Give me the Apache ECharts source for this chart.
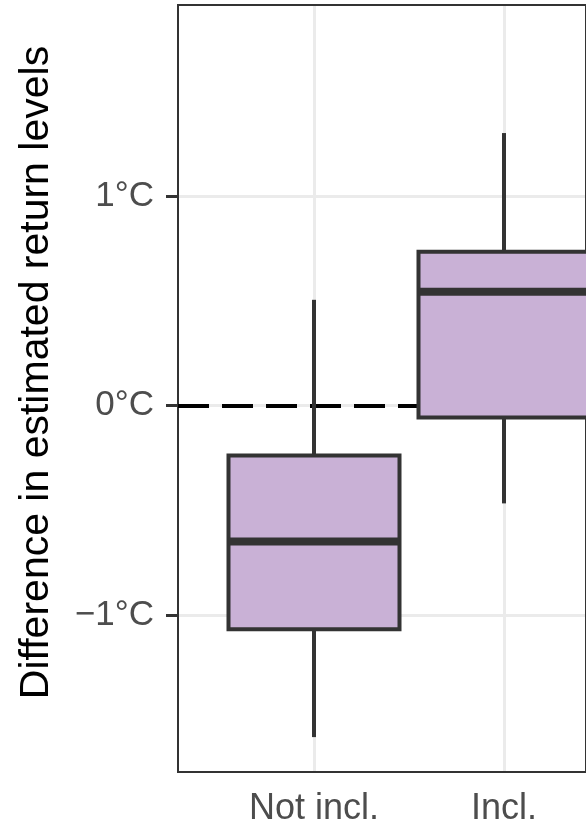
<!DOCTYPE html>
<html>
<head>
<meta charset="utf-8">
<script src="https://cdn.jsdelivr.net/npm/echarts@6/dist/echarts.min.js"></script>
<style>
html,body{margin:0;padding:0;background:#fff;}
#chart{width:586px;height:827px;}
</style>
</head>
<body>
<div id="chart"></div>
<script>
// ---- data ----
const categories = ['Not incl.', 'Incl.'];
const whiskerLow  = [-1.587, -0.470];
const q1          = [-1.072, -0.060];
const median      = [-0.652, 0.542];
const q3          = [-0.241, 0.733];
const whiskerHigh = [0.503, 1.300];
const yTicks = [-1, 0, 1];
const yMin = -1.749, yMax = 1.912;
const yTitle = 'Difference in estimated return levels';

const FONT = 'Liberation Sans, Arial, Helvetica, sans-serif';
const boxData = categories.map((c, i) => [i, whiskerLow[i], q1[i], median[i], q3[i], whiskerHigh[i]]);

const fmt = v => (v < 0 ? '\u2212' : '') + Math.abs(v) + '°C';

const chart = echarts.init(document.getElementById('chart'), null, {renderer: 'canvas'});
chart.setOption({
  animation: false,
  backgroundColor: '#ffffff',
  grid: [
    {left: 178, top: 5, bottom: 55, width: 700, show: true, borderColor: '#333333', borderWidth: 2, backgroundColor: 'transparent', z: 3},
    {left: 314, top: 5, bottom: 55, width: 190, show: false}
  ],
  xAxis: [
    {type: 'value', gridIndex: 0, min: 0, max: 1, show: false},
    {
      type: 'category', gridIndex: 1, data: categories, boundaryGap: false,
      axisLine: {show: false},
      axisTick: {show: true, length: 12, lineStyle: {color: '#333333', width: 3}},
      axisLabel: {show: true, fontSize: 36, color: '#4d4d4d', fontFamily: FONT, margin: 20},
      splitLine: {show: true, lineStyle: {color: '#ebebeb', width: 3}}
    }
  ],
  yAxis: [
    {
      type: 'value', gridIndex: 0, min: yMin, max: yMax,
      axisLine: {show: false},
      axisTick: {show: true, length: 12, lineStyle: {color: '#333333', width: 3}, customValues: yTicks},
      axisLabel: {show: true, fontSize: 35, color: '#4d4d4d', fontFamily: FONT, margin: 24, formatter: fmt, customValues: yTicks},
      splitLine: {show: true, lineStyle: {color: '#ebebeb', width: 3}},
      name: yTitle, nameLocation: 'middle', nameGap: 121,
      nameTextStyle: {fontSize: 41, color: '#000000', fontFamily: FONT, padding: [0, 0, 0, 32]}
    },
    {type: 'value', gridIndex: 1, min: yMin, max: yMax, show: false}
  ],
  series: [
    {
      type: 'line', xAxisIndex: 0, yAxisIndex: 0, data: [], silent: true, z: 1,
      markLine: {
        silent: true, symbol: ['none', 'none'], label: {show: false},
        lineStyle: {color: '#000000', width: 4, type: [31, 13]},
        data: [{yAxis: 0}]
      }
    },
    {
      type: 'custom', xAxisIndex: 1, yAxisIndex: 1, z: 5,
      data: boxData,
      encode: {x: 0, y: [1, 2, 3, 4, 5]},
      renderItem: function (params, api) {
        const i = api.value(0);
        const pLow = api.coord([i, api.value(1)]);
        const pQ1 = api.coord([i, api.value(2)]);
        const pMed = api.coord([i, api.value(3)]);
        const pQ3 = api.coord([i, api.value(4)]);
        const pHigh = api.coord([i, api.value(5)]);
        const bw = api.size([1, 0])[0] * 0.9;
        const cx = pMed[0];
        const stroke = '#333333';
        return {
          type: 'group',
          children: [
            {type: 'line', shape: {x1: cx, y1: pQ3[1], x2: cx, y2: pHigh[1]}, style: {stroke: stroke, lineWidth: 4}},
            {type: 'line', shape: {x1: cx, y1: pQ1[1], x2: cx, y2: pLow[1]}, style: {stroke: stroke, lineWidth: 4}},
            {type: 'rect', shape: {x: cx - bw / 2, y: pQ3[1], width: bw, height: pQ1[1] - pQ3[1]}, style: {fill: '#c9b1d6', stroke: stroke, lineWidth: 4}},
            {type: 'line', shape: {x1: cx - bw / 2, y1: pMed[1], x2: cx + bw / 2, y2: pMed[1]}, style: {stroke: stroke, lineWidth: 8}}
          ]
        };
      }
    }
  ]
});
</script>
</body>
</html>
